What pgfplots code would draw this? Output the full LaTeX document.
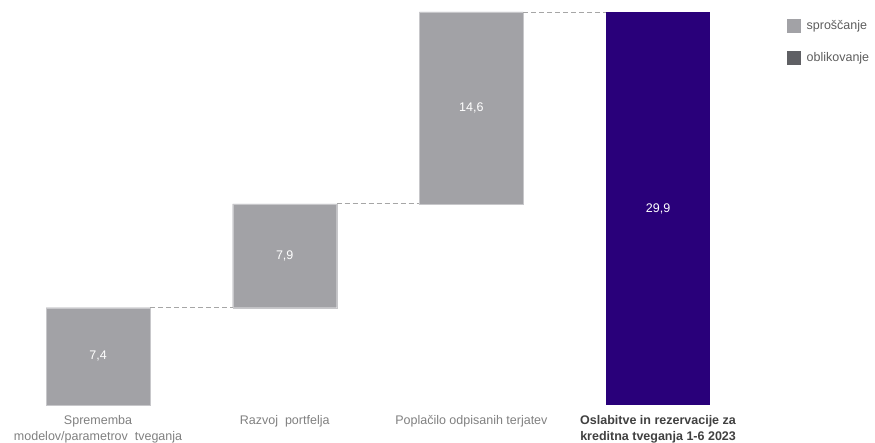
\documentclass[border=0pt]{standalone}
\usepackage{pgfplots}
\pgfplotsset{compat=1.18}
\usepackage{fontspec}
\setmainfont{Liberation Sans}
\definecolor{barg}{HTML}{A2A2A6}
\definecolor{barp}{HTML}{29007A}
\definecolor{legd}{HTML}{5F6064}
\definecolor{txtg}{HTML}{808080}
\definecolor{txtd}{HTML}{404040}
\definecolor{dashc}{HTML}{A6A6A6}
\pgfplotstableread{
x base gray purple
0 0    7.4  0
1 7.4  7.9  0
2 15.3 14.6 0
3 0    0    29.9
}\bars
\pgfplotstableread{
x y label
0 3.7 7,4
1 11.35 7,9
2 22.6 14,6
3 14.95 29,9
}\labels
\begin{document}
\begin{tikzpicture}
\useasboundingbox (0pt,0pt) rectangle (875pt,443pt);
\pgfplotsset{common/.style={
  at={(4.7pt,38pt)}, anchor=south west, scale only axis,
  width=746.7pt, height=393pt,
  xmin=-0.5, xmax=3.5, ymin=0, ymax=29.9,
  clip=false}}
\begin{axis}[common,
  ybar stacked, bar width=104pt,
  axis line style={draw=none}, major tick style={draw=none},
  ytick=\empty, xtick={0,1,2,3},
  xticklabels={{Sprememba\\modelov/parametrov\ \ tveganja},{Razvoj\ \ portfelja},{Popla\v{c}ilo odpisanih terjatev},{\bfseries\color{txtd}Oslabitve in rezervacije za\\\bfseries\color{txtd}kreditna tveganja 1-6 2023}},
  xticklabel style={align=center, text=txtg, font=\fontsize{12.5}{16}\selectfont, yshift=-7pt},
]
\addplot[draw=none, fill=none] table[x=x, y=base]{\bars};
\addplot[draw=barg!60!white, line width=0.4pt, fill=barg] table[x=x, y=gray]{\bars};
\addplot[draw=none, fill=barp] table[x=x, y=purple]{\bars};
\end{axis}
\begin{axis}[common, hide axis,
  legend style={at={(1.048,0.984)}, anchor=north west, draw=none, fill=none,
    font=\fontsize{12.5}{15}\selectfont, text=txtd!85!white, row sep=17pt, inner sep=0pt},
  legend cell align=left,
]
\addplot[dashc, dash pattern=on 5pt off 3pt, line width=0.8pt, forget plot] coordinates {(0.2786,7.4) (0.7214,7.4)};
\addplot[dashc, dash pattern=on 5pt off 3pt, line width=0.8pt, forget plot] coordinates {(1.2786,15.3) (1.7214,15.3)};
\addplot[dashc, dash pattern=on 5pt off 3pt, line width=0.8pt, forget plot] coordinates {(2.2786,29.9) (2.7214,29.9)};
\addplot[draw=none, mark=none, forget plot, nodes near coords, point meta=explicit symbolic,
  nodes near coords style={anchor=center, text=white, font=\fontsize{12.5}{15}\selectfont}]
  table[x=x, y=y, meta=label]{\labels};
\addlegendimage{legend image code/.code={\fill[barg] (0pt,-6.5pt) rectangle (13pt,6.5pt); \path[draw=none] (0pt,0pt) -- (17pt,0pt);}}
\addlegendentry{spro\v{s}\v{c}anje}
\addlegendimage{legend image code/.code={\fill[legd] (0pt,-6.5pt) rectangle (13pt,6.5pt); \path[draw=none] (0pt,0pt) -- (17pt,0pt);}}
\addlegendentry{oblikovanje}
\end{axis}
\end{tikzpicture}
\end{document}
